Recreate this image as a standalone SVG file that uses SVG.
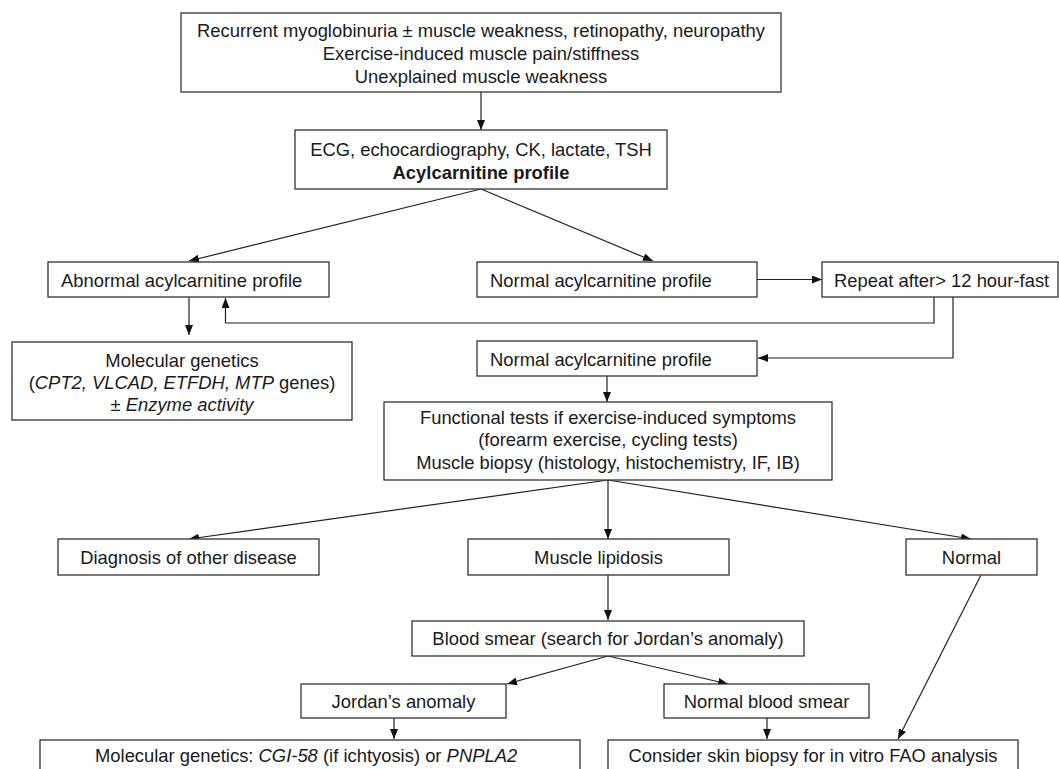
<svg xmlns="http://www.w3.org/2000/svg" width="1059" height="769" viewBox="0 0 1059 769">
<defs>
<marker id="ah" viewBox="0 0 10 8" refX="10" refY="4" markerWidth="10" markerHeight="8" markerUnits="userSpaceOnUse" orient="auto">
<path d="M0,0 L10,4 L0,8 Z" fill="#111"/>
</marker>
<style>
.box{fill:#fff;stroke:#333;stroke-width:1.3}
.t{font-family:"Liberation Sans",Arial,sans-serif;font-size:18.4px;fill:#1a1a1a}
.m{text-anchor:middle}
.c{fill:none;stroke:#222;stroke-width:1.2}
.ca{fill:none;stroke:#222;stroke-width:1.2;marker-end:url(#ah)}
</style>
</defs>
<rect width="1059" height="769" fill="#fff"/>
<g id="connectors">
<line class="ca" x1="481" y1="92" x2="481" y2="130"/>
<line class="ca" x1="481" y1="189" x2="189" y2="261"/>
<line class="ca" x1="481" y1="189" x2="653" y2="261"/>
<line class="ca" x1="757" y1="279.5" x2="822" y2="279.5"/>
<path class="ca" d="M934,297 V323 H225.5 V298"/>
<path class="ca" d="M953,297 V358 H758"/>
<line class="ca" x1="189" y1="297" x2="189" y2="335"/>
<line class="ca" x1="607" y1="376" x2="607" y2="402"/>
<line class="ca" x1="608" y1="480" x2="189" y2="539"/>
<line class="ca" x1="608" y1="480" x2="608" y2="539"/>
<line class="ca" x1="608" y1="480" x2="971" y2="539"/>
<line class="ca" x1="608" y1="575" x2="608" y2="620"/>
<line class="ca" x1="608" y1="656" x2="507" y2="684"/>
<line class="ca" x1="608" y1="656" x2="728" y2="684"/>
<line class="ca" x1="394" y1="718" x2="394" y2="739"/>
<line class="ca" x1="767" y1="718" x2="767" y2="739"/>
<line class="ca" x1="981" y1="575" x2="898" y2="739"/>
</g>
<g id="n-symptoms">
<rect class="box" x="181" y="13" width="600" height="79"/>
<text class="t m" x="481" y="37">Recurrent myoglobinuria ± muscle weakness, retinopathy, neuropathy</text>
<text class="t m" x="481" y="60">Exercise-induced muscle pain/stiffness</text>
<text class="t m" x="481" y="83">Unexplained muscle weakness</text>
</g>
<g id="n-ecg">
<rect class="box" x="295" y="130" width="372" height="59"/>
<text class="t m" x="481" y="156">ECG, echocardiography, CK, lactate, TSH</text>
<text class="t m" x="481" y="179" font-weight="bold">Acylcarnitine profile</text>
</g>
<g id="n-abnormal">
<rect class="box" x="48" y="262" width="281" height="35"/>
<text class="t" x="61" y="287">Abnormal acylcarnitine profile</text>
</g>
<g id="n-normal1">
<rect class="box" x="477" y="262" width="280" height="35"/>
<text class="t" x="490" y="287">Normal acylcarnitine profile</text>
</g>
<g id="n-repeat">
<rect class="box" x="822" y="262" width="236" height="35"/>
<text class="t" x="834" y="287">Repeat after&gt; 12 hour-fast</text>
</g>
<g id="n-normal2">
<rect class="box" x="477" y="341" width="280" height="35"/>
<text class="t" x="490" y="366">Normal acylcarnitine profile</text>
</g>
<g id="n-molgen1">
<rect class="box" x="12" y="342" width="340" height="78"/>
<text class="t m" x="182" y="367">Molecular genetics</text>
<text class="t m" x="182" y="389">(<tspan font-style="italic">CPT2, VLCAD, ETFDH, MTP</tspan> genes)</text>
<text class="t m" x="182" y="411" font-style="italic">± Enzyme activity</text>
</g>
<g id="n-functional">
<rect class="box" x="384" y="402" width="448" height="78"/>
<text class="t m" x="608" y="424">Functional tests if exercise-induced symptoms</text>
<text class="t m" x="608" y="446">(forearm exercise, cycling tests)</text>
<text class="t m" x="608" y="469">Muscle biopsy (histology, histochemistry, IF, IB)</text>
</g>
<g id="n-diagnosis">
<rect class="box" x="58" y="539" width="261" height="36"/>
<text class="t m" x="188.5" y="564">Diagnosis of other disease</text>
</g>
<g id="n-lipidosis">
<rect class="box" x="468" y="539" width="261" height="36"/>
<text class="t m" x="598.5" y="564">Muscle lipidosis</text>
</g>
<g id="n-normal">
<rect class="box" x="906" y="539" width="131" height="36"/>
<text class="t m" x="971.5" y="564">Normal</text>
</g>
<g id="n-bloodsmear">
<rect class="box" x="412" y="621" width="392" height="35"/>
<text class="t m" x="608" y="645">Blood smear (search for Jordan’s anomaly)</text>
</g>
<g id="n-jordan">
<rect class="box" x="301" y="684" width="205" height="34"/>
<text class="t m" x="403.5" y="708">Jordan’s anomaly</text>
</g>
<g id="n-normalsmear">
<rect class="box" x="664" y="684" width="205" height="34"/>
<text class="t m" x="766.5" y="708">Normal blood smear</text>
</g>
<g id="n-molgen2">
<rect class="box" x="40" y="740" width="540" height="50"/>
<text class="t" x="95" y="762">Molecular genetics: <tspan font-style="italic">CGI-58</tspan> (if ichtyosis) or  <tspan font-style="italic">PNPLA2</tspan></text>
</g>
<g id="n-skin">
<rect class="box" x="608" y="740" width="410" height="50"/>
<text class="t m" x="813" y="762">Consider skin biopsy for in vitro FAO analysis</text>
</g>
</svg>
